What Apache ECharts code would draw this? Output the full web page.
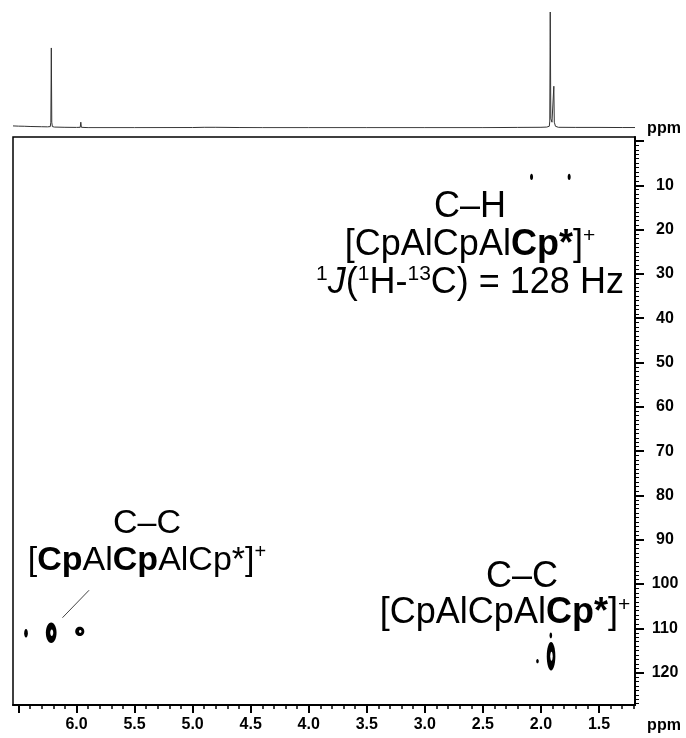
<!DOCTYPE html>
<html>
<head>
<meta charset="utf-8">
<script src="https://cdn.jsdelivr.net/npm/echarts@6/dist/echarts.min.js"></script>
<style>
  html, body { margin: 0; padding: 0; background: #fff; }
  #chart { width: 686px; height: 738px; }
</style>
</head>
<body>
<div id="chart"></div>
<script>
// 1H projection along F2: chemical shift (ppm) and relative intensity
const projShift = [6.547, 6.50, 6.45, 6.40, 6.30, 6.25, 6.226, 6.221, 6.217, 6.213, 6.208, 6.19, 6.10, 6.00,
  5.968, 5.963, 5.958, 5.90, 5.50, 5.00, 4.90, 4.80, 4.60, 4.40, 4.00, 3.50, 3.00, 2.50, 2.20, 2.00, 1.95,
  1.928, 1.924, 1.920, 1.915, 1.905, 1.893, 1.889, 1.885, 1.875, 1.85, 1.70, 1.50, 1.30, 1.19];
const projInt = [0.018, 0.016, 0.015, 0.013, 0.011, 0.010, 0.012, 0.05, 0.69, 0.05, 0.012, 0.008, 0.006, 0.005,
  0.006, 0.05, 0.006, 0.003, 0.003, 0.004, 0.006, 0.006, 0.004, 0.003, 0.003, 0.003, 0.003, 0.003, 0.005, 0.006, 0.008,
  0.015, 0.06, 1.0, 0.08, 0.05, 0.06, 0.36, 0.05, 0.015, 0.006, 0.005, 0.005, 0.004, 0.004];

// 2D cross peaks: F2 shift (1H, ppm), F1 shift (13C, ppm), contour extent in each dimension, inner hole
const peakF2 = [6.435, 6.218, 5.972, 1.913, 1.915, 2.030, 2.081, 1.757];
const peakF1 = [111.1, 111.0, 110.7, 116.3, 111.6, 117.4, 8.1, 8.1];
const peakW2 = [0.032, 0.092, 0.078, 0.074, 0.022, 0.022, 0.026, 0.026];
const peakW1 = [1.9, 4.6, 2.1, 6.4, 1.3, 1.0, 1.4, 1.4];
const peakHole = [0, 1, 1, 1, 0, 0, 0, 0];

// leader line from the label to the 6.2 ppm cross peak
const leaderF2 = [6.121, 5.892];
const leaderF1 = [107.6, 101.4];

// axis ticks
const xMajorTicks = [6.5, 6.0, 5.5, 5.0, 4.5, 4.0, 3.5, 3.0, 2.5, 2.0, 1.5];
const xTickLabels = [6.0, 5.5, 5.0, 4.5, 4.0, 3.5, 3.0, 2.5, 2.0, 1.5];
const yMajorTicks = [0, 10, 20, 30, 40, 50, 60, 70, 80, 90, 100, 110, 120];
const yTickLabels = [10, 20, 30, 40, 50, 60, 70, 80, 90, 100, 110, 120];

const F2_MIN = 1.19, F2_MAX = 6.547;
const F1_MIN = -0.9, F1_MAX = 127.3;

const FONT = '"Liberation Sans", Arial, Helvetica, sans-serif';

const chart = echarts.init(document.getElementById('chart'), null, { renderer: 'canvas' });

const projData = projShift.map((s, i) => [s, projInt[i]]);
const peakData = peakF2.map((s, i) => [s, peakF1[i], peakW2[i], peakW1[i], peakHole[i]]);
const leaderData = leaderF2.map((s, i) => [s, leaderF1[i]]);

function renderPeak(params, api) {
  const c = api.coord([api.value(0), api.value(1)]);
  const s = api.size([api.value(2), api.value(3)], [api.value(0), api.value(1)]);
  const rx = Math.max(s[0] / 2, 1.3);
  const ry = Math.max(s[1] / 2, 1.3);
  const children = [{
    type: 'ellipse',
    shape: { cx: c[0], cy: c[1], rx: rx, ry: ry },
    style: { fill: '#000' }
  }];
  if (api.value(4)) {
    children.push({
      type: 'ellipse',
      shape: { cx: c[0] + rx * 0.1, cy: c[1], rx: rx * 0.28, ry: ry * 0.32 },
      style: { fill: '#fff' }
    });
  }
  return { type: 'group', children: children };
}

function richStyles(size, lh) {
  const sup = Math.round(size * 0.58);
  return {
    n: { fontFamily: FONT, fontSize: size, lineHeight: lh, fill: '#000' },
    b: { fontFamily: FONT, fontSize: size, lineHeight: lh, fontWeight: 'bold', fill: '#000' },
    i: { fontFamily: FONT, fontSize: size, lineHeight: lh, fontStyle: 'italic', fill: '#000' },
    s: { fontFamily: FONT, fontSize: sup, lineHeight: Math.round(lh * 0.66), verticalAlign: 'top', fill: '#000' }
  };
}

const option = {
  animation: false,
  backgroundColor: '#fff',
  grid: [
    { left: 13, right: 51, top: 12, height: 116, show: false },
    { left: 13, right: 51, top: 137, height: 568, show: true, borderColor: '#000', borderWidth: 1.5, backgroundColor: 'transparent' }
  ],
  xAxis: [
    { type: 'value', gridIndex: 0, min: F2_MIN, max: F2_MAX, inverse: true, show: false },
    {
      type: 'value', gridIndex: 1, position: 'bottom', min: F2_MIN, max: F2_MAX, inverse: true, splitNumber: 10,
      axisLine: { show: true, onZero: false, lineStyle: { color: '#000', width: 2 } },
      axisTick: { show: true, customValues: xMajorTicks, length: 8, lineStyle: { color: '#000', width: 2 } },
      minorTick: { show: true, splitNumber: 5, length: 4, lineStyle: { color: '#000', width: 1.5 } },
      axisLabel: {
        customValues: xTickLabels, formatter: v => Number(v).toFixed(1), margin: 12,
        color: '#000', fontFamily: FONT, fontWeight: 'bold', fontSize: 16
      },
      splitLine: { show: false }
    }
  ],
  yAxis: [
    { type: 'value', gridIndex: 0, min: 0, max: 1, show: false },
    {
      type: 'value', gridIndex: 1, position: 'right', min: F1_MIN, max: F1_MAX, inverse: true, splitNumber: 12,
      axisLine: { show: true, onZero: false, lineStyle: { color: '#000', width: 2 } },
      axisTick: { show: true, customValues: yMajorTicks, length: 9, lineStyle: { color: '#000', width: 2 } },
      minorTick: { show: true, splitNumber: 10, length: 4, lineStyle: { color: '#000', width: 1 } },
      axisLabel: {
        customValues: yTickLabels, align: 'center', margin: 30,
        color: '#000', fontFamily: FONT, fontWeight: 'bold', fontSize: 16
      },
      splitLine: { show: false }
    }
  ],
  series: [
    {
      type: 'line', xAxisIndex: 0, yAxisIndex: 0, data: projData,
      showSymbol: false, symbol: 'none', lineStyle: { color: '#333', width: 1 }, silent: true
    },
    {
      type: 'custom', xAxisIndex: 1, yAxisIndex: 1, data: peakData, renderItem: renderPeak, clip: true, silent: true
    },
    {
      type: 'line', xAxisIndex: 1, yAxisIndex: 1, data: leaderData,
      showSymbol: false, symbol: 'none', lineStyle: { color: '#444', width: 1 }, silent: true
    }
  ],
  graphic: [
    {
      type: 'text', x: 664, y: 129,
      style: { text: 'ppm', fill: '#000', font: 'bold 16px ' + FONT, align: 'center', verticalAlign: 'middle' }
    },
    {
      type: 'text', x: 664, y: 726,
      style: { text: 'ppm', fill: '#000', font: 'bold 16px ' + FONT, align: 'center', verticalAlign: 'middle' }
    },
    // C–H coupling label
    {
      type: 'text', x: 470, y: 245,
      style: {
        text: '{n|C–H}\n{n|[CpAlCpAl}{b|Cp*}{n|]}{s|+}\n{s|1}{i|J}{n|(}{s|1}{n|H-}{s|13}{n|C) = 128 Hz}',
        align: 'center', verticalAlign: 'middle', fill: '#000',
        rich: richStyles(36, 38)
      }
    },
    // C–C label, Cp ring carbons
    {
      type: 'text', x: 147, y: 542,
      style: {
        text: '{n|C–C}\n{n|[}{b|Cp}{n|Al}{b|Cp}{n|AlCp*]}{s|+}',
        align: 'center', verticalAlign: 'middle', fill: '#000',
        rich: richStyles(34, 37)
      }
    },
    // C–C label, Cp* ring carbons
    {
      type: 'text', x: 522, y: 577,
      style: {
        text: 'C–C', align: 'center', verticalAlign: 'middle', fill: '#000',
        fontFamily: FONT, fontSize: 36
      }
    },
    {
      type: 'text', x: 505, y: 613,
      style: {
        text: '{n|[CpAlCpAl}{b|Cp*}{n|]}{s|+}',
        align: 'center', verticalAlign: 'middle', fill: '#000',
        rich: richStyles(36, 37)
      }
    }
  ]
};

chart.setOption(option);
</script>
</body>
</html>
